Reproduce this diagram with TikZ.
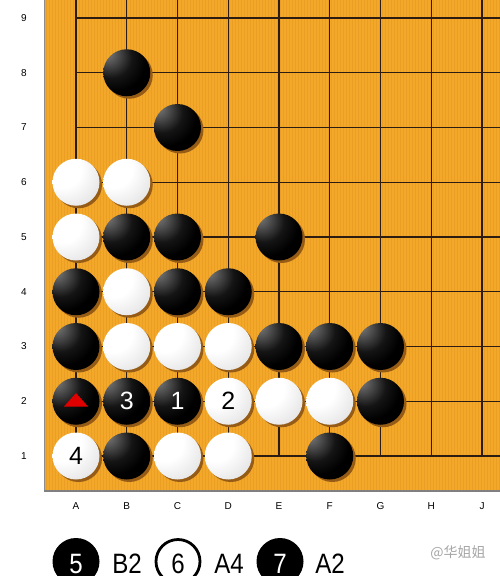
\documentclass[tikz,border=0pt]{standalone}
\usepackage{graphicx}
\usepackage{fontspec}
\setmainfont{Liberation Sans}
\newfontfamily\cjkfont{Noto Sans CJK SC}
\definecolor{boardc}{RGB}{243,168,42}
\definecolor{stripec}{RGB}{225,150,30}
\definecolor{gridc}{RGB}{45,28,18}
\definecolor{shadowc}{RGB}{150,92,22}
\definecolor{markred}{RGB}{225,0,0}
\pgfdeclareradialshading{wst}{\pgfpoint{-18bp}{18bp}}{color(0bp)=(white);color(20bp)=(white);color(44bp)=(black!12);color(62bp)=(black!32);color(78bp)=(black!45);color(95bp)=(black!45)}
\pgfdeclareradialshading{bst}{\pgfpoint{-22bp}{22bp}}{color(0bp)=(black!62);color(4bp)=(black!58);color(22bp)=(black!92);color(34bp)=(black);color(90bp)=(black)}
\newcommand{\narrowtxt}[1]{\scalebox{0.86}[1]{#1}}
\tikzset{
  bstone/.style={circle, minimum size=47pt, inner sep=0pt, shading=bst, text=white, font=\fontsize{25}{25}\selectfont},
  wstone/.style={circle, minimum size=47pt, inner sep=0pt, shading=wst, text=black, font=\fontsize{25}{25}\selectfont},
  coordlabel/.style={font=\fontsize{10}{10}\selectfont, text=black},
  legendb/.style={circle, minimum size=47pt, inner sep=0pt, fill=black},
  legendw/.style={circle, minimum size=44pt, inner sep=0pt, draw=black, line width=2.8pt, fill=white},
  legendtxt/.style={font=\fontsize{28}{28}\selectfont, anchor=base, inner sep=0pt}
}
\begin{document}
\begin{tikzpicture}[x=1pt,y=-1pt]
\useasboundingbox (0,0) rectangle (500,576);
\fill[white] (0,0) rectangle (500,576);
% board
\fill[boardc] (44,0) rectangle (500,490);
\foreach \i in {46,49,...,499} \draw[stripec, line width=0.5pt, opacity=0.45] (\i,0) -- (\i,490);
\draw[gray, line width=2pt] (44,491) -- (500,491);
\draw[black!45, line width=0.8pt] (44.4,0) -- (44.4,490);
% grid
\foreach \c in {1,...,9} \draw[gridc, line width=1.2pt] ({76+50.75*(\c-1)},456) -- ({76+50.75*(\c-1)},0);
\foreach \r in {1,...,9} \draw[gridc, line width=1.2pt] (76,{456-54.75*(\r-1)}) -- (500,{456-54.75*(\r-1)});
% coordinate labels
\foreach \r in {1,...,9} \node[coordlabel] (row\r) at (24,{456-54.75*(\r-1)}) {\r};
\foreach \c/\l in {1/A,2/B,3/C,4/D,5/E,6/F,7/G,8/H,9/J} \node[coordlabel] (col\l) at ({76+50.75*(\c-1)},506) {\l};
% shadows
\foreach \c/\r in {2/8,3/7,2/5,3/5,5/5,1/4,3/4,4/4,1/3,5/3,6/3,7/3,1/2,2/2,3/2,7/2,2/1,6/1,1/6,2/6,1/5,2/4,2/3,3/3,4/3,4/2,5/2,6/2,1/1,3/1,4/1}
  \fill[shadowc] ({76+50.75*(\c-1)+2.5},{456-54.75*(\r-1)+2.5}) circle (23.5);
% black stones
\foreach \c/\r/\n/\t in {2/8/B8/,3/7/C7/,2/5/B5/,3/5/C5/,5/5/E5/,1/4/A4/,3/4/C4/,4/4/D4/,1/3/A3/,5/3/E3/,6/3/F3/,7/3/G3/,1/2/A2/,2/2/B2/3,3/2/C2/1,7/2/G2/,2/1/B1/,6/1/F1/}
  \node[bstone] (\n) at ({76+50.75*(\c-1)},{456-54.75*(\r-1)}) {\t};
% white stones
\foreach \c/\r/\n/\t in {1/6/A6/,2/6/B6/,1/5/A5/,2/4/B4/,2/3/B3/,3/3/C3/,4/3/D3/,4/2/D2/2,5/2/E2/,6/2/F2/,1/1/A1/4,3/1/C1/,4/1/D1/}
  \node[wstone] (\n) at ({76+50.75*(\c-1)},{456-54.75*(\r-1)}) {\t};
% red triangle marker
\fill[markred] (64,406.5) -- (88,406.5) -- (76,393) -- cycle;
% legend
\node[legendb] (L5) at (76,561.5) {};
\node[legendtxt, text=white] (L5t) at (76,573.5) {\narrowtxt{5}};
\node[legendtxt] (LB2) at (127,573.5) {\narrowtxt{B2}};
\node[legendw] (L6) at (178,561.5) {};
\node[legendtxt] (L6t) at (178,573.5) {\narrowtxt{6}};
\node[legendtxt] (LA4) at (229,573.5) {\narrowtxt{A4}};
\node[legendb] (L7) at (280,561.5) {};
\node[legendtxt, text=white] (L7t) at (280,573.5) {\narrowtxt{7}};
\node[legendtxt] (LA2) at (330,573.5) {\narrowtxt{A2}};
% watermark
\node[text=black!35, font=\cjkfont\fontsize{14}{14}\selectfont] (wm) at (458,553) {@华姐姐};
\end{tikzpicture}
\end{document}
